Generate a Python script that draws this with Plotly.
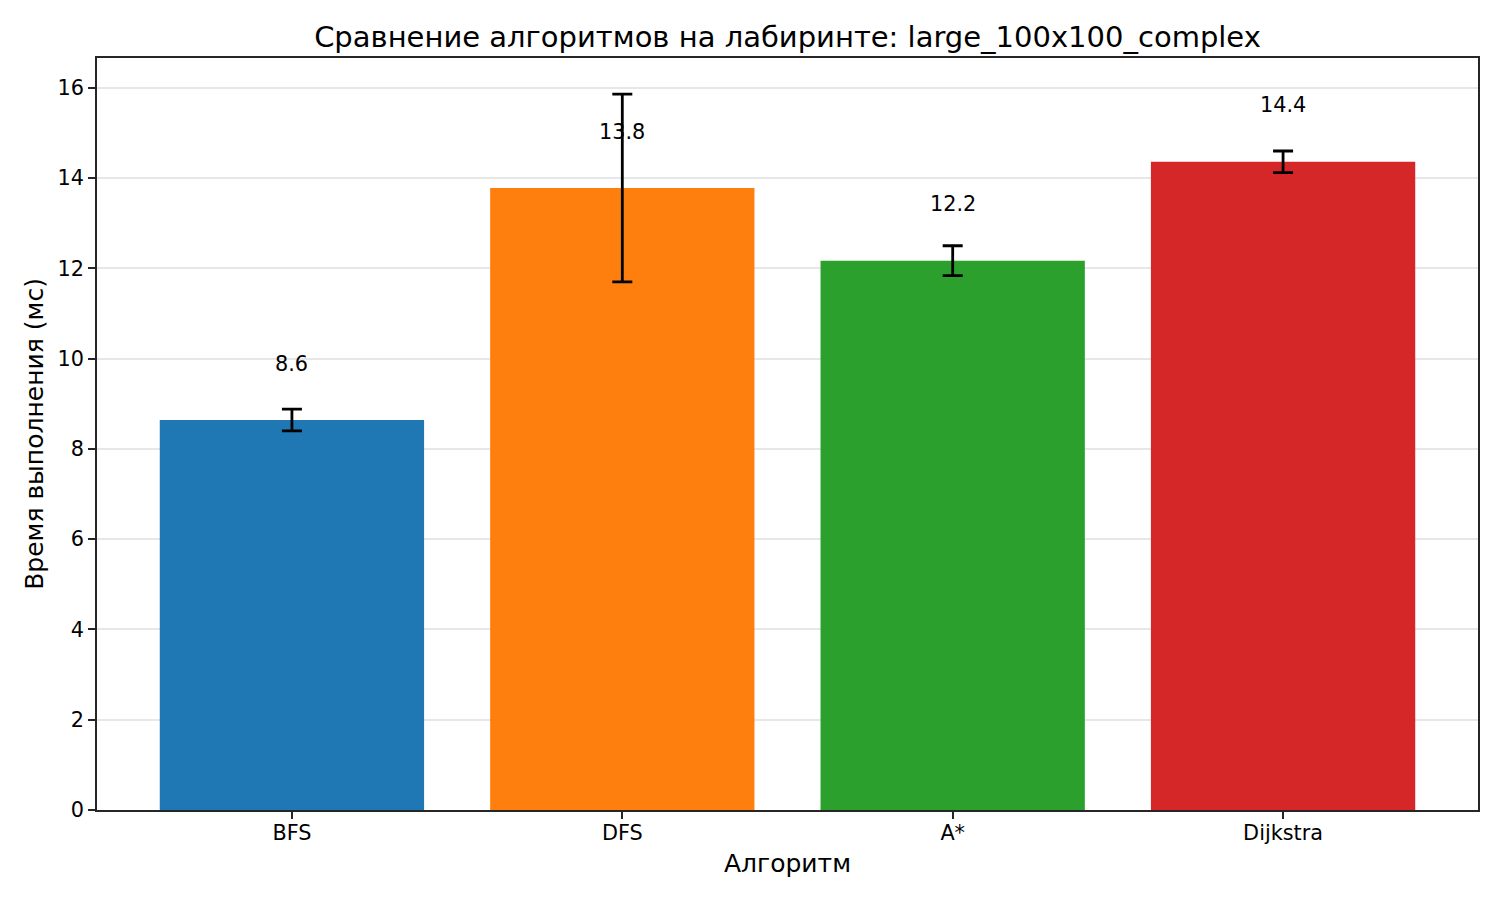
import plotly.graph_objects as go

algorithms = ["BFS", "DFS", "A*", "Dijkstra"]
times_ms = [8.64, 13.78, 12.17, 14.36]
errors_ms = [0.24, 2.08, 0.33, 0.24]
colors = ["#1f77b4", "#ff7f0e", "#2ca02c", "#d62728"]
y_ticks = [0, 2, 4, 6, 8, 10, 12, 14, 16]

FONT = "DejaVu Sans"
label_offset = 1.25
AXIS = "#262626"

fig = go.Figure()
fig.add_trace(go.Bar(
    x=algorithms, y=times_ms, marker=dict(color=colors, line=dict(width=0)),
    width=0.8,
    error_y=dict(type="data", array=errors_ms, visible=True, color="black",
                 thickness=2.8, width=10),
    showlegend=False,
))

for a, v in zip(algorithms, times_ms):
    fig.add_annotation(x=a, y=v + label_offset, text=f"{v:.1f}", showarrow=False,
                       font=dict(family=FONT, size=20.8, color="black"),
                       xanchor="center", yanchor="middle")

fig.update_layout(
    width=1500, height=900,
    margin=dict(l=89, r=30, t=50, b=98),
    plot_bgcolor="white", paper_bgcolor="white",
    font=dict(family=FONT, color="black"),
    title=dict(text="Сравнение алгоритмов на лабиринте: large_100x100_complex",
               x=0.5, xref="paper", xanchor="center", y=1 - 29 / 900, yanchor="middle",
               font=dict(family=FONT, size=29, color="black")),
    bargap=0.2,
)
fig.update_xaxes(
    range=[-0.59, 3.59], showline=True, linecolor=AXIS, linewidth=1.6, mirror=True,
    ticks="outside", ticklen=7, tickcolor=AXIS, tickwidth=1.6,
    tickfont=dict(family=FONT, size=20.8, color="black"),
    ticklabelstandoff=-4,
    title=dict(text="Алгоритм", font=dict(family=FONT, size=25, color="black"), standoff=11),
    showgrid=False,
)
fig.update_yaxes(
    range=[0, 16.66], tickvals=y_ticks, ticktext=[str(t) for t in y_ticks],
    showline=True, linecolor=AXIS, linewidth=1.6, mirror=True,
    ticks="outside", ticklen=7, tickcolor=AXIS, tickwidth=1.6,
    tickfont=dict(family=FONT, size=20.8, color="black"),
    title=dict(text="Время выполнения (мс)", font=dict(family=FONT, size=25, color="black"), standoff=7),
    showgrid=True, gridcolor="rgba(176,176,176,0.3)", gridwidth=1.6,
    layer="above traces", zeroline=False,
)

fig.write_html("out.html")
